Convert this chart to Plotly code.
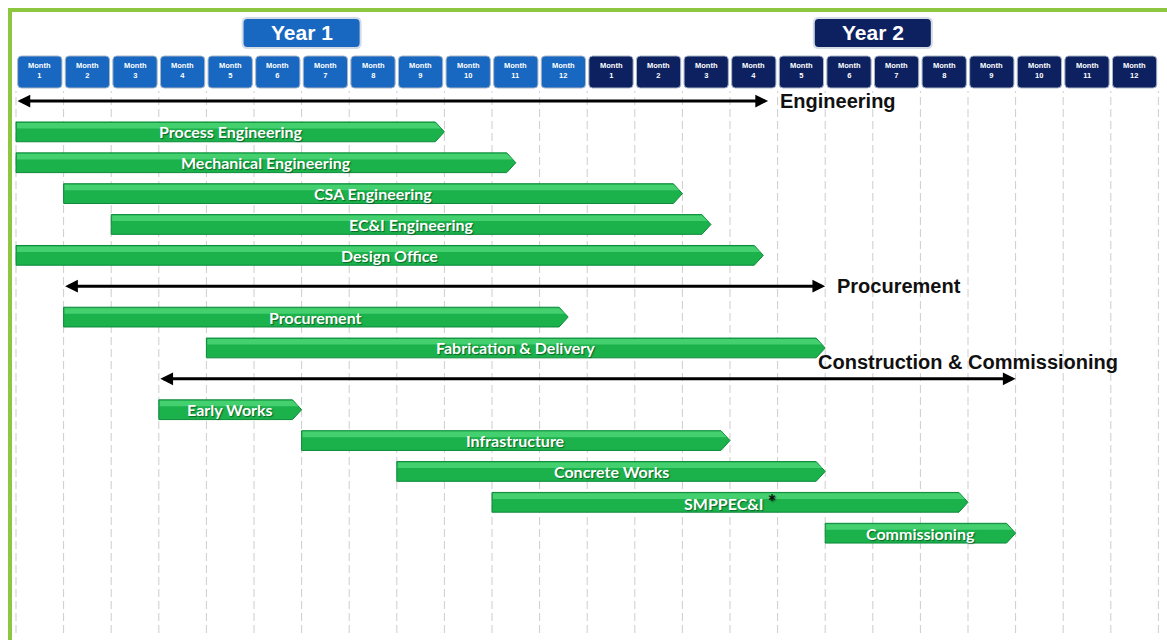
import plotly.graph_objects as go

# header
month_labels = ["1", "2", "3", "4", "5", "6", "7", "8", "9", "10", "11", "12",
                "1", "2", "3", "4", "5", "6", "7", "8", "9", "10", "11", "12"]
year_labels = ["Year 1", "Year 2"]

# tasks (start / end in months from project start, row = line in the chart)
tasks = ["Process Engineering", "Mechanical Engineering", "CSA Engineering",
         "EC&I Engineering", "Design Office", "Procurement",
         "Fabrication & Delivery", "Early Works", "Infrastructure",
         "Concrete Works", "SMPPEC&I", "Commissioning"]
task_start = [0, 0, 1, 2, 0, 1, 4, 3, 6, 8, 10, 17]
task_end = [9, 10.5, 14, 14.6, 15.7, 11.6, 17, 6, 15, 17, 20, 21]
task_row = [1, 2, 3, 4, 5, 7, 8, 10, 11, 12, 13, 14]
task_note = ["", "", "", "", "", "", "", "", "", "", "*", ""]

# phases (double arrows)
phases = ["Engineering", "Procurement", "Construction & Commissioning"]
phase_start = [0, 1, 3]
phase_end = [15.8, 17, 21]
phase_row = [0, 6, 9]

W, H = 1167, 640
X0_PX, MONTH_PX = 16, 47.6
ROW0_PX, ROW_PX = 101, 30.87

BLUE1 = "#1867c0"
BLUE2 = "#0d2160"
GREEN = "#1bb14b"
GREEN_HI = "#45d070"
GREEN_LINE = "#0d8a3a"
ARIAL = "Liberation Sans, Arial, sans-serif"
BAR_FONT = "Lato, Open Sans, sans-serif"


def rounded(x0, x1, y0, y1, rx, ry):
    return (f"M{x0+rx},{y0} L{x1-rx},{y0} Q{x1},{y0} {x1},{y0+ry} "
            f"L{x1},{y1-ry} Q{x1},{y1} {x1-rx},{y1} L{x0+rx},{y1} "
            f"Q{x0},{y1} {x0},{y1-ry} L{x0},{y0+ry} Q{x0},{y0} {x0+rx},{y0} Z")


fig = go.Figure()

# bars as chevrons
h, tip = 0.32, 0.19
band = 2 * h * 0.33
for s, e, r in zip(task_start, task_end, task_row):
    fig.add_trace(go.Scatter(
        x=[s, e - tip, e, e - tip, s, s],
        y=[r - h, r - h, r, r + h, r + h, r - h],
        mode="lines", fill="toself", fillcolor=GREEN,
        line=dict(color=GREEN_LINE, width=1), hoverinfo="skip"))
    fig.add_trace(go.Scatter(
        x=[s + 0.02, e - tip, e - tip + tip * band / h, s + 0.02, s + 0.02],
        y=[r - h + 0.03, r - h + 0.03, r - h + band, r - h + band, r - h + 0.03],
        mode="lines", fill="toself", fillcolor=GREEN_HI,
        line=dict(width=0), hoverinfo="skip"))

shapes = []
annotations = []

# dashed month grid
for k in range(len(month_labels) + 1):
    shapes.append(dict(type="line", xref="x", yref="paper", x0=k, x1=k,
                       y0=1 - 633 / H, y1=1 - 91 / H, layer="below",
                       line=dict(color="#cdcdcd", width=1, dash="8px,4px")))

# month header boxes
for i, m in enumerate(month_labels):
    col = BLUE1 if i < 12 else BLUE2
    shapes.append(dict(type="path", xref="x", yref="paper",
                       path=rounded(i + 0.035, i + 0.965, 1 - 88 / H, 1 - 56 / H, 0.08, 0.006),
                       fillcolor=col, line=dict(color="#a9b6c8", width=1)))
    annotations.append(dict(x=i + 0.5, y=1 - 70 / H, xref="x", yref="paper",
                            yanchor="middle", text=f"<b>Month<br>{m}</b>",
                            showarrow=False,
                            font=dict(family=ARIAL, size=7.5, color="white")))

# year header boxes
for j, yl in enumerate(year_labels):
    c = 12 * j + 6
    col = BLUE1 if j == 0 else BLUE2
    shapes.append(dict(type="path", xref="x", yref="paper",
                       path=rounded(c - 1.24, c + 1.24, 1 - 48 / H, 1 - 18 / H, 0.1, 0.008),
                       fillcolor=col, line=dict(color="#d3dbe6", width=2)))
    annotations.append(dict(x=c, y=1 - 33 / H, xref="x", yref="paper",
                            yanchor="middle", text=f"<b>{yl}</b>", showarrow=False,
                            font=dict(family=ARIAL, size=21, color="white")))

# phase arrows and labels
for i, (p, s, e, r) in enumerate(zip(phases, phase_start, phase_end, phase_row)):
    annotations.append(dict(x=e, y=r, ax=s, ay=r, xref="x", yref="y",
                            axref="x", ayref="y", text="", showarrow=True,
                            arrowhead=2, startarrowhead=2, arrowside="end+start",
                            arrowwidth=3, arrowsize=0.85, startarrowsize=0.85,
                            arrowcolor="black"))
    if i < 2:
        annotations.append(dict(x=e, y=r, xref="x", yref="y", xanchor="left",
                                xshift=10, text=f"<b>{p}</b>", showarrow=False,
                                font=dict(family=ARIAL, size=20, color="#111")))
    else:
        annotations.append(dict(x=e - 1, y=r, xref="x", yref="y", xanchor="center",
                                yshift=17, text=f"<b>{p}</b>", showarrow=False,
                                font=dict(family=ARIAL, size=20, color="#111")))

# bar labels
for t, s, e, r, n in zip(tasks, task_start, task_end, task_row, task_note):
    txt = f"<b>{t}</b>"
    if n:
        txt += f" <span style='color:#111;font-size:20px'><b>{n}</b></span>"
    annotations.append(dict(x=(s + e) / 2, y=r, xref="x", yref="y",
                            text=txt, showarrow=False,
                            font=dict(family=BAR_FONT, size=16, color="white",
                                      shadow="1px 1px 1px rgba(0,70,20,0.7)")))

# green frame
shapes.append(dict(type="rect", xref="paper", yref="paper",
                   x0=10 / W, x1=1.02, y0=-0.05, y1=1 - 10 / H,
                   line=dict(color="#8dc63f", width=4)))

fig.update_layout(
    width=W, height=H, margin=dict(l=0, r=0, t=0, b=0),
    paper_bgcolor="white", plot_bgcolor="white", showlegend=False,
    shapes=shapes, annotations=annotations,
    xaxis=dict(range=[-X0_PX / MONTH_PX, (W - X0_PX) / MONTH_PX], visible=False,
               fixedrange=True),
    yaxis=dict(range=[(H - ROW0_PX) / ROW_PX, -ROW0_PX / ROW_PX], visible=False,
               fixedrange=True),
)

fig.write_html("out.html", config={"displayModeBar": False},
               post_script="document.body.style.margin='0';")
